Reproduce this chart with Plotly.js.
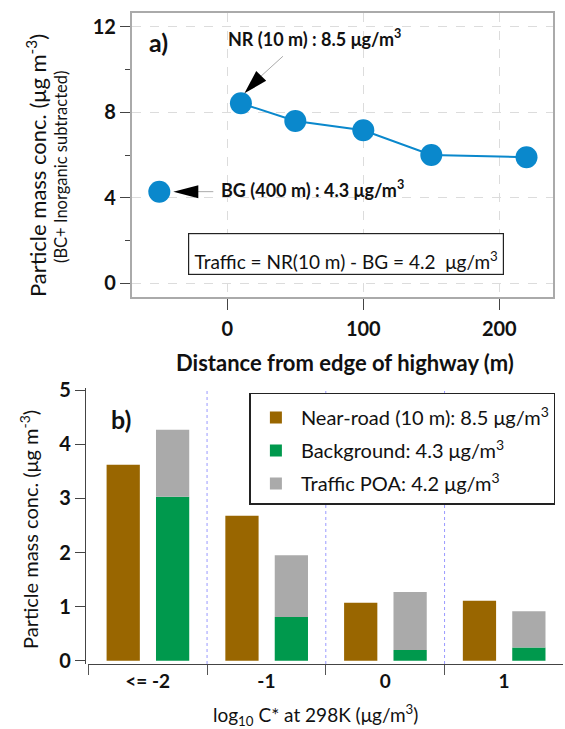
<!DOCTYPE html>
<html>
<head>
<meta charset="utf-8">
<script src="https://cdn.plot.ly/plotly-3.0.1.min.js"></script>
<style>
  html, body { margin: 0; padding: 0; background: #ffffff; }
  #chart { width: 565px; height: 729px; }
</style>
</head>
<body>
<div id="chart"></div>
<script>
// ---------- Panel a) data ----------
const distance = [10, 50, 100, 150, 220];          // m from highway edge
const concentration = [8.42, 7.59, 7.16, 6.0, 5.9]; // µg/m3
const bgDistance = [-50];                            // plotted position of background site
const bgConcentration = [4.29];

// ---------- Panel b) data ----------
const bins = ['<= -2', '-1', '0', '1'];
const nearRoad = [3.62, 2.68, 1.07, 1.11];
const background = [3.03, 0.81, 0.20, 0.245];
const trafficPOA = [1.24, 1.14, 1.07, 0.67];

const legendNames = [
  'Near-road (10 m): 8.5 μg/m<sup>3</sup>',
  'Background: 4.3 μg/m<sup>3</sup>',
  'Traffic POA: 4.2 μg/m<sup>3</sup>'
];

const W = 565, H = 729;
const px = x => x / W;
const py = y => 1 - y / H;
const FONT = 'Lato, "Open Sans", sans-serif';
const BLUE = '#0a88cc';

const traces = [
  {
    type: 'scatter', mode: 'lines+markers', x: distance, y: concentration,
    xaxis: 'x', yaxis: 'y', showlegend: false, hoverinfo: 'skip',
    line: { color: BLUE, width: 2 },
    marker: { color: BLUE, size: 22 }
  },
  {
    type: 'scatter', mode: 'markers', x: bgDistance, y: bgConcentration,
    xaxis: 'x', yaxis: 'y', showlegend: false, hoverinfo: 'skip',
    marker: { color: BLUE, size: 22 }
  },
  {
    type: 'bar', x: bins, y: nearRoad, xaxis: 'x2', yaxis: 'y2',
    name: legendNames[0], legendgroup: 'a',
    width: 0.28, offset: -0.346,
    marker: { color: '#996600', line: { width: 0 } }
  },
  {
    type: 'bar', x: bins, y: background, xaxis: 'x2', yaxis: 'y2',
    name: legendNames[1], legendgroup: 'b',
    width: 0.28, offset: 0.07,
    marker: { color: '#00994d', line: { width: 0 } }
  },
  {
    type: 'bar', x: bins, y: trafficPOA, base: background, xaxis: 'x2', yaxis: 'y2',
    name: legendNames[2], legendgroup: 'c',
    width: 0.28, offset: 0.07,
    marker: { color: '#aaaaaa', line: { width: 0 } }
  }
];

// arrow heads / shafts (pixel offsets anchored on the data points)
const shapes = [
  { type: 'line', xref: 'x', yref: 'y', xsizemode: 'pixel', ysizemode: 'pixel',
    xanchor: distance[0], yanchor: concentration[0],
    x0: 20, y0: 27, x1: 42, y1: 47, line: { color: '#aaaaaa', width: 1 } },
  { type: 'path', xref: 'x', yref: 'y', xsizemode: 'pixel', ysizemode: 'pixel',
    xanchor: distance[0], yanchor: concentration[0],
    path: 'M3.5,10 L25.3,22.4 L15.3,32.2 Z', fillcolor: '#000000', line: { width: 0 } },
  { type: 'line', xref: 'x', yref: 'y', xsizemode: 'pixel', ysizemode: 'pixel',
    xanchor: bgDistance[0], yanchor: bgConcentration[0],
    x0: 38, y0: 0, x1: 54, y1: 0, line: { color: '#aaaaaa', width: 1 } },
  { type: 'path', xref: 'x', yref: 'y', xsizemode: 'pixel', ysizemode: 'pixel',
    xanchor: bgDistance[0], yanchor: bgConcentration[0],
    path: 'M14,0 L39,6.5 L39,-6.5 Z', fillcolor: '#000000', line: { width: 0 } },
  ...[0.5, 1.5, 2.5].map(v => ({
    type: 'line', xref: 'x2', yref: 'y2 domain', x0: v, x1: v, y0: 0, y1: 1,
    line: { color: '#9a9aff', width: 1, dash: 'dot' }
  }))
];

const txt = (text, x, y, size, extra) => Object.assign({
  text: text, xref: 'paper', yref: 'paper', x: px(x), y: py(y),
  xanchor: 'center', yanchor: 'middle', showarrow: false,
  font: { size: size, family: FONT, color: '#111' }
}, extra || {});

const annotations = [
  txt('<b>a)</b>', 158, 42, 25),
  txt('<b>NR (10 m) : 8.5 μg/m<sup>3</sup></b>', 226, 38, 18, { xanchor: 'left' }),
  txt('<b>BG (400 m) : 4.3 μg/m<sup>3</sup></b>', 219, 189, 18, { xanchor: 'left' }),
  txt('Traffic = NR(10 m) - BG = 4.2  μg/m<sup>3</sup>', 345.6, 254.3, 19, {
    width: 312, height: 38, valign: 'bottom',
    bordercolor: '#222', borderwidth: 1.2, borderpad: 1, bgcolor: '#ffffff'
  }),
  txt('Particle mass conc. (μg m<sup>-3</sup>)', 36, 166, 22, { textangle: -90 }),
  txt('(BC+ Inorganic subtracted)', 61, 167, 16.5, { textangle: -90 }),
  txt('<b>Distance from edge of highway (m)</b>', 345, 362, 22),
  txt('<b>b)</b>', 121, 419, 25),
  txt('Particle mass conc. (μg m<sup>-3</sup>)', 29, 530, 20, { textangle: -90 }),
  txt('log<sub>10</sub> C* at 298K (μg/m<sup>3</sup>)', 315, 715, 19)
];

const tickFontBold = { size: 20, family: FONT, color: '#111', weight: 700 };

const layout = {
  width: W, height: H,
  margin: { l: 0, r: 0, t: 0, b: 0, pad: 0 },
  paper_bgcolor: '#ffffff', plot_bgcolor: '#ffffff',
  font: { family: FONT, color: '#111' },
  barmode: 'overlay',
  showlegend: true,
  legend: {
    x: px(249.4), y: py(392.7), xanchor: 'left', yanchor: 'top',
    bordercolor: '#222', borderwidth: 1.5, bgcolor: '#ffffff',
    font: { size: 20, family: FONT, color: '#111' },
    title: { text: '&nbsp;', font: { size: 3, family: FONT } },
    traceorder: 'grouped', tracegroupgap: 4, itemwidth: 40
  },
  xaxis: {
    domain: [px(131.7), px(553.3)], range: [-70.3, 239.7], anchor: 'y',
    tickvals: [0, 100, 200], ticks: 'outside', ticklen: 11, tickcolor: '#444', tickwidth: 1,
    ticklabelstandoff: 2,
    showline: true, mirror: true, linecolor: '#aaaaaa', linewidth: 1.5,
    showgrid: true, gridcolor: '#dcdcdc', griddash: 'dash', gridwidth: 1,
    zeroline: false, tickfont: tickFontBold
  },
  yaxis: {
    domain: [py(297.3), py(12.7)], range: [-0.645, 12.65], anchor: 'x',
    tickvals: [0, 4, 8, 12], ticks: 'outside', ticklen: 10, tickcolor: '#444', tickwidth: 1,
    minor: { tickvals: [2, 6, 10], ticks: 'outside', ticklen: 5, tickcolor: '#444', showgrid: false },
    showline: true, mirror: true, linecolor: '#aaaaaa', linewidth: 1.5,
    showgrid: true, gridcolor: '#dcdcdc', griddash: 'dash', gridwidth: 1,
    zeroline: false, tickfont: tickFontBold
  },
  xaxis2: {
    type: 'category', domain: [px(88.3), px(563.3)], range: [-0.5, 3.5], anchor: 'y2',
    tickson: 'boundaries', ticks: 'outside', ticklen: 10, tickcolor: '#555', tickwidth: 1,
    showline: true, linecolor: '#444', linewidth: 1.2,
    showgrid: false, zeroline: false,
    tickfont: { size: 19, family: FONT, color: '#111', weight: 700 }
  },
  yaxis2: {
    domain: [py(664), py(388.3)], range: [-0.06, 5.035], anchor: 'free', position: px(85),
    tickvals: [0, 1, 2, 3, 4, 5], ticks: 'outside', ticklen: 10, tickcolor: '#444', tickwidth: 1,
    showline: true, linecolor: '#444', linewidth: 1.2,
    showgrid: false, zeroline: false, tickfont: tickFontBold
  },
  shapes: shapes,
  annotations: annotations
};

Plotly.newPlot('chart', traces, layout, { displayModeBar: false });
</script>
</body>
</html>
